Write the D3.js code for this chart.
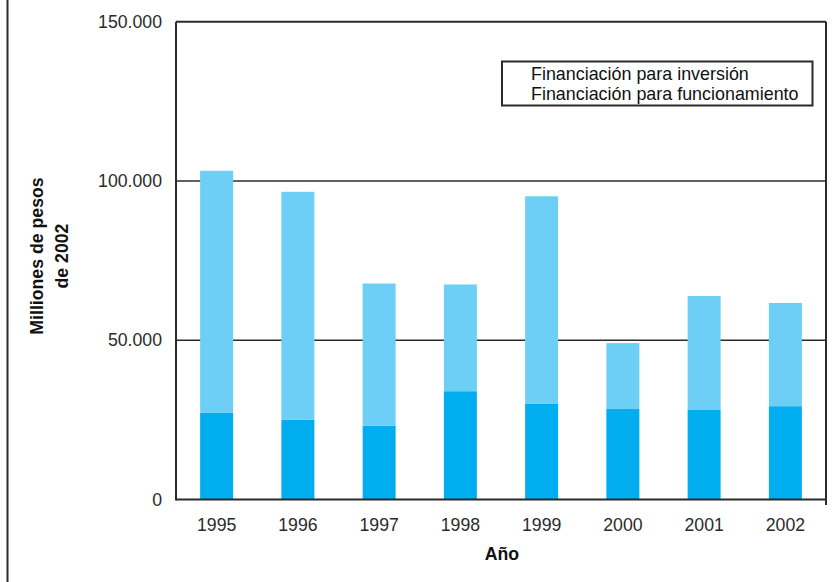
<!DOCTYPE html>
<html><head><meta charset="utf-8">
<script src="https://cdn.jsdelivr.net/npm/d3@7"></script>
<style>html,body{margin:0;padding:0;background:#fff;}svg{display:block;}</style>
</head><body>
<svg id="chart" width="834" height="582"></svg>
<script>
const years = ["1995","1996","1997","1998","1999","2000","2001","2002"];
const funcionamiento = [27300, 25100, 23200, 34000, 30000, 28400, 28100, 29300]; // dark, bottom
const inversionTotal = [103200, 96600, 67800, 67500, 95200, 49100, 63900, 61700]; // bar tops
const inversion = inversionTotal.map((t, i) => t - funcionamiento[i]);
const yTicks = [0, 50000, 100000, 150000];
const legendLabels = ["Financiación para inversión", "Financiación para funcionamiento"];
const yTitle = ["Milliones de pesos", "de 2002"];
const xTitle = "Año";

const svg = d3.select("#chart");
const font = "'Liberation Sans', Arial, Helvetica, sans-serif";
const L = 176, R = 826, T = 21.7, B = 499.5;
const ink = "#2b2b2b";

const x = d3.scaleBand().domain(years).range([L, R]).paddingInner(0.594).paddingOuter(0.297);
const y = d3.scaleLinear().domain([0, 150000]).range([B, T]);
const fmt = d3.formatLocale({decimal: ",", thousands: ".", grouping: [3], currency: ["", ""]}).format(",");

// outer frame line on left
svg.append("line").attr("x1", 7.5).attr("x2", 7.5).attr("y1", 0).attr("y2", 582)
  .attr("stroke", ink).attr("stroke-width", 2);

// gridlines
svg.append("g").selectAll("line").data(yTicks.filter(d => d > 0 && d < 150000)).join("line")
  .attr("x1", L).attr("x2", R).attr("y1", d => y(d)).attr("y2", d => y(d))
  .attr("stroke", ink).attr("stroke-width", 1.5);

// stacked bars
const stackData = years.map((yr, i) => ({year: yr, funcionamiento: funcionamiento[i], inversion: inversion[i]}));
const series = d3.stack().keys(["funcionamiento", "inversion"])(stackData);
const colors = {funcionamiento: "#00aeef", inversion: "#6dcff6"};
svg.append("g").selectAll("g").data(series).join("g")
  .attr("fill", s => colors[s.key])
  .selectAll("rect").data(s => s).join("rect")
  .attr("x", d => x(d.data.year)).attr("width", x.bandwidth())
  .attr("y", d => y(d[1])).attr("height", d => y(d[0]) - y(d[1]));

// frame: left, top, right, bottom
const frame = svg.append("g").attr("stroke", ink).attr("stroke-width", 2).attr("fill", "none");
frame.append("line").attr("x1", L).attr("x2", L).attr("y1", T).attr("y2", B + 1);
frame.append("line").attr("x1", L).attr("x2", R).attr("y1", T).attr("y2", T);
frame.append("line").attr("x1", R).attr("x2", R).attr("y1", T).attr("y2", B + 5.5);
frame.append("line").attr("x1", L).attr("x2", R).attr("y1", B).attr("y2", B);

// y axis labels
const yAxis = d3.axisLeft(y).tickValues(yTicks).tickFormat(fmt).tickSize(0).tickPadding(14);
const gy = svg.append("g").attr("transform", `translate(${L},0)`).call(yAxis);
gy.select(".domain").remove();
gy.selectAll("text").attr("font-family", font).attr("font-size", 17.7).attr("fill", ink);

// x axis labels
const xAxis = d3.axisBottom(x).tickSize(0).tickPadding(19);
const gx = svg.append("g").attr("transform", `translate(0,${B})`).call(xAxis);
gx.select(".domain").remove();
gx.selectAll("text").attr("font-family", font).attr("font-size", 17.7).attr("fill", ink);

// axis titles
svg.append("text").attr("x", (L + R) / 2 + 1).attr("y", 560).attr("text-anchor", "middle")
  .attr("font-family", font).attr("font-weight", "bold").attr("font-size", 17.7).attr("fill", "#111")
  .text(xTitle);
const yt = svg.append("text").attr("transform", "translate(0,256) rotate(-90)")
  .attr("text-anchor", "middle").attr("font-family", font).attr("font-weight", "bold")
  .attr("font-size", 17.7).attr("fill", "#111");
yt.selectAll("tspan").data(yTitle).join("tspan")
  .attr("x", 0).attr("y", (d, i) => 42.5 + i * 25).text(d => d);

// legend (no swatches)
const lg = svg.append("g");
lg.append("rect").attr("x", 502).attr("y", 61.5).attr("width", 310.5).attr("height", 44)
  .attr("fill", "#fff").attr("stroke", ink).attr("stroke-width", 2);
lg.selectAll("text").data(legendLabels).join("text")
  .attr("x", 531).attr("y", (d, i) => 80 + i * 19.5)
  .attr("font-family", font).attr("font-size", 17.9).attr("fill", "#111").text(d => d);
</script>
</body></html>
